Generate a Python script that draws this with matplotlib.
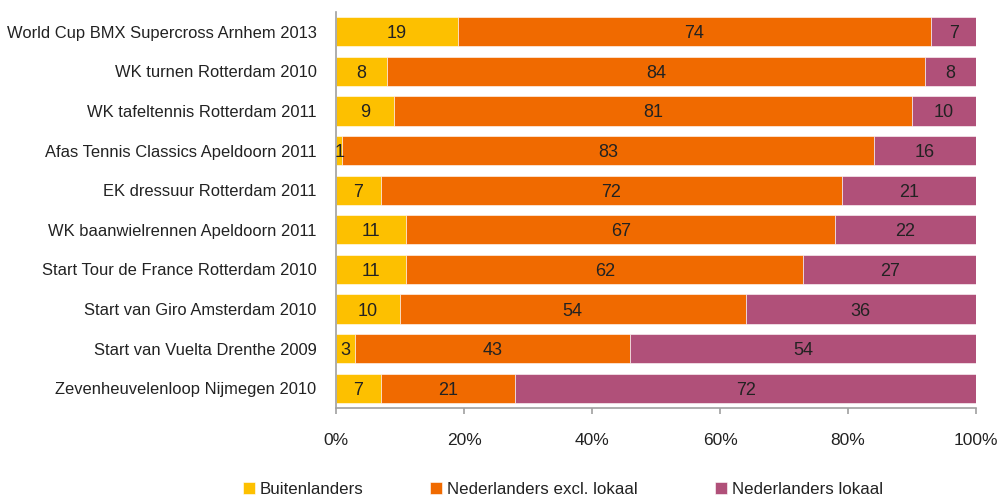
#!/usr/bin/env python3
"""
Herkomst bezoekers sportevenementen (stacked 100% bars)
"""
import matplotlib
matplotlib.use("Agg")
import matplotlib.pyplot as plt
import numpy as np

plt.rcParams["font.family"] = ["Liberation Sans", "DejaVu Sans"]

EVENTS = [
    "World Cup BMX Supercross Arnhem 2013",
    "WK turnen Rotterdam 2010",
    "WK tafeltennis Rotterdam 2011",
    "Afas Tennis Classics Apeldoorn 2011",
    "EK dressuur Rotterdam 2011",
    "WK baanwielrennen Apeldoorn 2011",
    "Start Tour de France Rotterdam 2010",
    "Start van Giro Amsterdam 2010",
    "Start van Vuelta Drenthe 2009",
    "Zevenheuvelenloop Nijmegen 2010",
]
buitenlanders = [19, 8, 9, 1, 7, 11, 11, 10, 3, 7]
nl_excl_lokaal = [74, 84, 81, 83, 72, 67, 62, 54, 43, 21]
nl_lokaal = [7, 8, 10, 16, 21, 22, 27, 36, 54, 72]

SERIES = ["Buitenlanders", "Nederlanders excl. lokaal", "Nederlanders lokaal"]
COLORS = ["#FDC000", "#F06A00", "#B05079"]
TEXT = "#222222"
AXIS = "#A0A0A0"


def main():
    fig = plt.figure(figsize=(10, 4.97), dpi=100)
    ax = fig.add_axes([0.336, 0.179, 0.640, 0.797])

    ys = np.arange(len(EVENTS))
    left = np.zeros(len(EVENTS))
    handles = []
    for name, vals, color in zip(SERIES, [buitenlanders, nl_excl_lokaal, nl_lokaal], COLORS):
        vals = np.array(vals, dtype=float)
        bars = ax.barh(ys, vals, left=left, height=0.74, color=color,
                       edgecolor="white", linewidth=0.4, label=name)
        handles.append(bars)
        for y, l, v in zip(ys, left, vals):
            ax.text(l + v / 2, y, f"{int(v)}", ha="center",
                    va="center_baseline", fontsize=13, color=TEXT)
        left += vals

    ax.set_ylim(len(EVENTS) - 0.5, -0.5)
    ax.set_xlim(0, 100)
    ax.set_yticks(ys, EVENTS)
    ax.set_xticks(np.arange(0, 101, 20), [f"{v}%" for v in range(0, 101, 20)])
    ax.tick_params(axis="y", length=0, pad=14, labelsize=11.9, labelcolor=TEXT)
    ax.tick_params(axis="x", length=4, width=1.2, color=AXIS, pad=14,
                   labelsize=12.5, labelcolor=TEXT)

    for side in ["top", "right"]:
        ax.spines[side].set_visible(False)
    for side in ["left", "bottom"]:
        ax.spines[side].set_color(AXIS)
        ax.spines[side].set_linewidth(1.2)

    # one legend per entry so the uneven spacing of the original can be kept
    for h, name, x in zip(handles, SERIES, [0.243, 0.430, 0.715]):
        fig.legend(handles=[h], labels=[name], loc="center left",
                   bbox_to_anchor=(x, 0.016), frameon=False, borderpad=0,
                   borderaxespad=0, fontsize=12.2, handlelength=0.7,
                   handleheight=0.7, handletextpad=0.3, labelcolor=TEXT)

    fig.savefig("out.png", dpi=100)


if __name__ == "__main__":
    main()
